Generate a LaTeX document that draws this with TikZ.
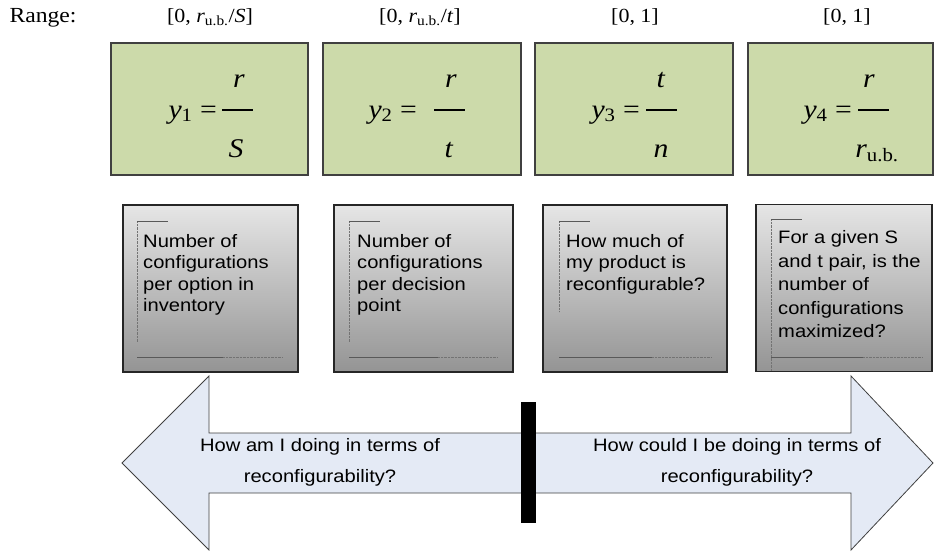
\documentclass[tikz,border=0pt]{standalone}
\usepackage{fontspec}
\setmainfont[FakeStretch=1.1]{Liberation Serif}
\newfontfamily\askfont[FakeStretch=1.12]{Liberation Sans}
\definecolor{eqgreen}{RGB}{204,218,170}
\definecolor{arrowblue}{RGB}{228,234,245}
\newcommand{\rub}{\textit{r}\textsubscript{u.b.}}

\begin{document}
\begin{tikzpicture}[x=1pt,y=-1pt,
  eqbox/.style={draw=black!75, line width=1.1pt, fill=eqgreen, minimum height=132pt, inner sep=0pt},
  askbox/.style={draw=black!85, line width=1.1pt, top color=black!10, bottom color=black!42, minimum height=167pt, inner sep=0pt},
  eqtext/.style={font=\fontsize{27}{32}\selectfont, inner sep=0pt},
  fracbar/.style={fill=black, minimum width=31pt, minimum height=1.2pt, inner sep=0pt},
  rangetext/.style={font=\fontsize{20}{24}\selectfont, inner sep=0pt, anchor=base},
  asktext/.style={font={\askfont\fontsize{18}{21.5}\selectfont}, align=left, anchor=north west, inner sep=0pt},
  arrowtext/.style={font={\askfont\fontsize{18}{31}\selectfont}, align=center, inner sep=0pt},
  frame/.style={draw=black!65, line width=0.8pt},
  framedot/.style={draw=black!55, line width=0.8pt, dash pattern=on 0.7pt off 0.7pt}]
\useasboundingbox (0,0) rectangle (935,554);

% ranges
\node[rangetext, font=\fontsize{21.5}{24}\selectfont] (range) at (43,22) {Range:};
\node[rangetext] (range1) at (210,22) {[0, \rub/\textit{S}]};
\node[rangetext] (range2) at (420,22) {[0, \rub/\textit{t}]};
\node[rangetext] (range3) at (635,22) {[0, 1]};
\node[rangetext] (range4) at (847,22) {[0, 1]};

% ratio boxes
\node[eqbox, minimum width=197pt] (g1) at (209.5,109) {};
\node[eqbox, minimum width=198pt] (g2) at (422,109) {};
\node[eqbox, minimum width=198pt] (g3) at (634,109) {};
\node[eqbox, minimum width=185pt] (g4) at (840.5,109) {};

\node[eqtext, anchor=base east] (lhs1) at (217,118) {\textit{y}\textsubscript{1} =};
\node[fracbar] (bar1) at (237,110) {};
\node[eqtext, anchor=base] (num1) at (239,87) {\textit{r}};
\node[eqtext, anchor=base] (den1) at (236,157) {\textit{S}};

\node[eqtext, anchor=base east] (lhs2) at (417,118) {\textit{y}\textsubscript{2} =};
\node[fracbar] (bar2) at (449,110) {};
\node[eqtext, anchor=base] (num2) at (451,87) {\textit{r}};
\node[eqtext, anchor=base] (den2) at (449,157) {\textit{t}};

\node[eqtext, anchor=base east] (lhs3) at (640,118) {\textit{y}\textsubscript{3} =};
\node[fracbar] (bar3) at (661,110) {};
\node[eqtext, anchor=base] (num3) at (661,87) {\textit{t}};
\node[eqtext, anchor=base] (den3) at (661,157) {\textit{n}};

\node[eqtext, anchor=base east] (lhs4) at (852,118) {\textit{y}\textsubscript{4} =};
\node[fracbar] (bar4) at (873.5,110) {};
\node[eqtext, anchor=base] (num4) at (869,87) {\textit{r}};
\node[eqtext, anchor=base] (den4) at (877,157) {\rub};

% question boxes
\node[askbox, minimum width=175pt] (q1) at (210.5,288.5) {};
\node[askbox, minimum width=179pt] (q2) at (423.5,288.5) {};
\node[askbox, minimum width=184pt] (q3) at (635,288.5) {};
\node[askbox, minimum width=176pt] (q4) at (844,288) {};

\draw[framedot] (137,221) -- (137,342);
\draw[frame] (137,221) -- (168,221) (137,357) -- (223,357);
\draw[framedot] (223,357) -- (282,357);
\draw[framedot] (349,221) -- (349,342);
\draw[frame] (349,221) -- (380,221) (349,357) -- (438,357);
\draw[framedot] (438,357) -- (498,357);
\draw[framedot] (559,221) -- (559,312);
\draw[frame] (559,221) -- (590,221) (559,357) -- (652,357);
\draw[framedot] (652,357) -- (712,357);
\draw[framedot] (771,219) -- (771,371);
\draw[frame] (771,219) -- (802,219) (771,357) -- (863,357);
\draw[framedot] (863,357) -- (922,357);

\node[asktext] (a1) at (143,234) {Number of\\configurations\\per option in\\inventory};
\node[asktext] (a2) at (357,234) {Number of\\configurations\\per decision\\point};
\node[asktext] (a3) at (566,234) {How much of\\my product is\\reconfigurable?};
\node[asktext, font={\askfont\fontsize{18}{23.5}\selectfont}] (a4) at (778,230.5) {For a given S\\and t pair, is the\\number of\\configurations\\maximized?};

% now vs could-be
\draw[draw=black!75, line width=0.8pt, fill=arrowblue, line join=miter] (122,463) -- (209,376) -- (209,433) -- (851,433) -- (851,376) -- (933,463) -- (851,550) -- (851,493) -- (209,493) -- (209,550) -- cycle;
\node[fill=black, minimum width=15pt, minimum height=121pt, inner sep=0pt] (divider) at (528.5,462.5) {};
\node[arrowtext] (now) at (320,462) {How am I doing in terms of\\reconfigurability?};
\node[arrowtext] (could) at (737,462) {How could I be doing in terms of\\reconfigurability?};
\end{tikzpicture}
\end{document}
